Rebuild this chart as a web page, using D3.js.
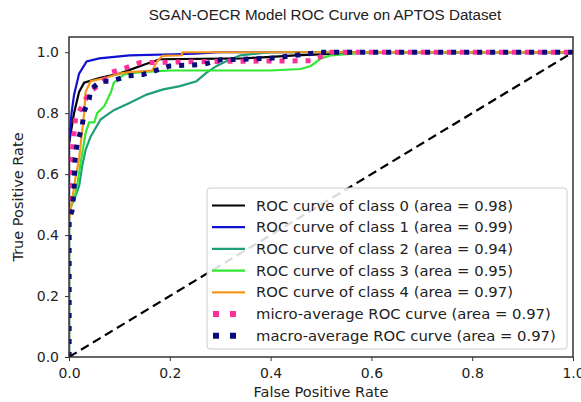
<!DOCTYPE html>
<html>
<head>
<meta charset="utf-8">
<script src="https://cdn.jsdelivr.net/npm/d3@7"></script>
<style>
  body { margin: 0; background: #fff; }
  text { font-family: "DejaVu Sans", sans-serif; fill: #222; }
</style>
</head>
<body>
<div id="chart"></div>
<script>
// ROC points [fpr, tpr]
const class0 = [[0,0],[0,0.7],[0.01,0.8],[0.02,0.87],[0.03,0.9],[0.06,0.915],[0.1,0.93],[0.15,0.96],[0.18,0.977],[0.35,0.98],[0.45,0.99],[0.6,1],[1,1]];
const class1 = [[0,0],[0,0.7],[0.005,0.8],[0.01,0.86],[0.02,0.93],[0.035,0.97],[0.06,0.98],[0.12,0.99],[0.25,0.995],[0.3,1],[1,1]];
const class2 = [[0,0],[0,0.47],[0.005,0.5],[0.01,0.515],[0.02,0.56],[0.026,0.625],[0.033,0.68],[0.043,0.724],[0.063,0.78],[0.089,0.81],[0.121,0.834],[0.154,0.861],[0.187,0.878],[0.22,0.889],[0.253,0.905],[0.273,0.933],[0.293,0.955],[0.313,0.971],[0.34,0.99],[0.4,1],[1,1]];
const class3 = [[0,0],[0,0.48],[0.01,0.515],[0.016,0.56],[0.023,0.637],[0.033,0.736],[0.04,0.77],[0.05,0.77],[0.056,0.8],[0.07,0.823],[0.083,0.868],[0.089,0.9],[0.109,0.927],[0.142,0.935],[0.2,0.94],[0.4,0.94],[0.46,0.945],[0.48,0.955],[0.5,0.98],[0.52,0.99],[0.6,1],[1,1]];
const class4 = [[0,0],[0,0.45],[0.005,0.5],[0.013,0.59],[0.02,0.65],[0.026,0.74],[0.03,0.8],[0.033,0.87],[0.043,0.905],[0.075,0.917],[0.1,0.93],[0.12,0.935],[0.165,0.94],[0.175,0.97],[0.185,0.988],[0.224,0.99],[0.225,1],[1,1]];
const microAvg = [[0,0],[0,0.55],[0.005,0.65],[0.008,0.7],[0.013,0.785],[0.026,0.823],[0.04,0.868],[0.065,0.9],[0.085,0.934],[0.115,0.95],[0.142,0.966],[0.3,0.97],[0.48,0.972],[0.52,1],[1,1]];
const macroAvg = [[0,0],[0,0.45],[0.006,0.48],[0.01,0.548],[0.012,0.647],[0.016,0.7],[0.026,0.756],[0.03,0.806],[0.04,0.845],[0.043,0.878],[0.063,0.905],[0.085,0.905],[0.115,0.922],[0.147,0.927],[0.2,0.955],[0.266,0.96],[0.3,0.975],[0.4,0.98],[0.5,1],[1,1]];

const seriesNames = ["ROC curve of class 0 (area = 0.98)", "ROC curve of class 1 (area = 0.99)",
  "ROC curve of class 2 (area = 0.94)", "ROC curve of class 3 (area = 0.95)",
  "ROC curve of class 4 (area = 0.97)", "micro-average ROC curve (area = 0.97)",
  "macro-average ROC curve (area = 0.97)"];
const seriesColors = ["#000000", "#1010d0", "#1f9e7a", "#33e633", "#f5961e", "#ff2f9a", "#0a0a7a"];
const seriesData = [class0, class1, class2, class3, class4, microAvg, macroAvg];
const xTicks = [0, 0.2, 0.4, 0.6, 0.8, 1.0];
const yTicks = [0, 0.2, 0.4, 0.6, 0.8, 1.0];

const width = 581, height = 402;
const margin = {top: 37, right: 8, bottom: 45, left: 69};

const svg = d3.select("#chart").append("svg")
  .attr("width", width).attr("height", height);

const x = d3.scaleLinear().domain([0, 1]).range([margin.left, width - margin.right]);
const y = d3.scaleLinear().domain([0, 1.05]).range([height - margin.bottom, margin.top]);

svg.append("clipPath").attr("id", "clip").append("rect")
  .attr("x", margin.left).attr("y", margin.top)
  .attr("width", x(1) - x(0)).attr("height", y(0) - y(1.05));

const line = d3.line().x(d => x(d[0])).y(d => y(d[1]));
const plot = svg.append("g").attr("clip-path", "url(#clip)");

seriesData.forEach((data, i) => {
  const dotted = i >= 5;
  plot.append("path")
    .datum(data)
    .attr("fill", "none")
    .attr("stroke", seriesColors[i])
    .attr("stroke-width", dotted ? 5 : 2.2)
    .attr("stroke-dasharray", dotted ? "5,8" : null)
    .attr("d", line);
});

// chance line
plot.append("path")
  .datum([[0, 0], [1, 1]])
  .attr("fill", "none")
  .attr("stroke", "#000")
  .attr("stroke-width", 2.2)
  .attr("stroke-dasharray", "9,5")
  .attr("d", line);

// axes
const xAxis = svg.append("g")
  .attr("transform", `translate(0,${y(0)})`)
  .call(d3.axisBottom(x).tickValues(xTicks).tickFormat(d3.format(".1f")).tickSize(4).tickPadding(7));
const yAxis = svg.append("g")
  .attr("transform", `translate(${x(0)},0)`)
  .call(d3.axisLeft(y).tickValues(yTicks).tickFormat(d3.format(".1f")).tickSize(4).tickPadding(6));
[xAxis, yAxis].forEach(g => {
  g.select(".domain").remove();
  g.selectAll(".tick line").attr("stroke", "#333");
  g.selectAll(".tick text").style("font-size", "14px").style("font-family", "DejaVu Sans").attr("fill", "#222");
});

// frame
svg.append("rect")
  .attr("x", x(0)).attr("y", y(1.05))
  .attr("width", x(1) - x(0)).attr("height", y(0) - y(1.05))
  .attr("fill", "none").attr("stroke", "#333").attr("stroke-width", 1.5);

// legend
const legend = svg.append("g");
legend.append("rect")
  .attr("x", 207).attr("y", 188).attr("width", 360).attr("height", 161)
  .attr("rx", 3)
  .attr("fill", "#fff").attr("fill-opacity", 0.85)
  .attr("stroke", "#ccc").attr("stroke-width", 1);
seriesNames.forEach((name, i) => {
  const cy = 205.5 + i * 21.7;
  const dotted = i >= 5;
  legend.append("line")
    .attr("x1", 212).attr("x2", 245).attr("y1", cy).attr("y2", cy)
    .attr("stroke", seriesColors[i])
    .attr("stroke-width", dotted ? 6 : 2.2)
    .attr("stroke-dasharray", dotted ? "6,11" : null)
    .attr("stroke-dashoffset", dotted ? -1 : null);
  legend.append("text")
    .attr("x", 256).attr("y", cy)
    .attr("dy", "0.35em")
    .style("font-size", "14.8px")
    .text(name);
});

// titles
svg.append("text")
  .attr("x", (x(0) + x(1)) / 2 + 4).attr("y", 20)
  .attr("text-anchor", "middle")
  .style("font-family", "Liberation Sans, Arial, sans-serif")
  .style("font-size", "15.2px")
  .text("SGAN-OECR Model ROC Curve on APTOS Dataset");
svg.append("text")
  .attr("x", (x(0) + x(1)) / 2).attr("y", 397)
  .attr("text-anchor", "middle")
  .style("font-size", "14.5px")
  .text("False Positive Rate");
svg.append("text")
  .attr("transform", `translate(23,${(y(0) + y(1.05)) / 2}) rotate(-90)`)
  .attr("text-anchor", "middle")
  .style("font-size", "14.5px")
  .text("True Positive Rate");
</script>
</body>
</html>
